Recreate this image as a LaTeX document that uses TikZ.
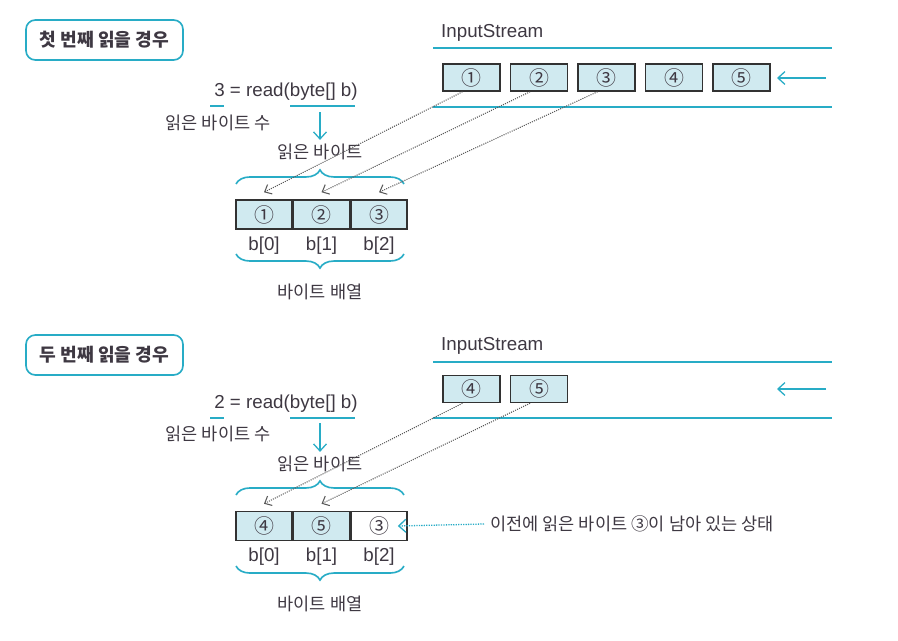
\documentclass[tikz,border=0pt]{standalone}
\usepackage{fontspec}
\setmainfont{Liberation Sans}
\newfontfamily\kr{Noto Sans CJK KR}
\usetikzlibrary{positioning, arrows.meta, calc, decorations.pathreplacing}
\definecolor{teal1}{RGB}{40,172,198}
\definecolor{cellfill}{RGB}{208,234,240}
\definecolor{ink}{RGB}{62,56,66}
\definecolor{edge}{RGB}{50,50,50}

\begin{document}
\begin{tikzpicture}[x=0.03cm, y=-0.03cm, font=\fontsize{16}{19}\selectfont, text=ink,
    title/.style={draw=teal1, line width=1.4pt, rounded corners=8pt, minimum width=4.71cm, minimum height=1.2cm, font=\kr\bfseries\fontsize{15.5}{18}\selectfont},
    cell/.style={draw=edge, line width=1.3pt, fill=cellfill, minimum width=1.71cm, minimum height=0.81cm, inner sep=0pt, font=\kr\fontsize{17}{18}\selectfont},
    slot/.style={cell, minimum width=1.68cm, minimum height=0.87cm},
    pipe/.style={teal1, line width=1.4pt},
    hint/.style={font=\kr\fontsize{15}{18}\selectfont},
    copy/.style={-{Straight Barb[length=5pt, width=9pt, line width=0.9pt]}, gray!70!black, densely dotted, line width=0.9pt},
    flow/.style={-{Straight Barb[length=6pt, width=11pt]}, teal1, line width=1.1pt},
    brc/.style={decorate, decoration={brace, amplitude=12pt, aspect=0.5}, teal1, line width=1.4pt}]
    \useasboundingbox (0,0) rectangle (898,640);

    % first read
    \node[title] (case1) at (104.5,40) {첫 번째 읽을 경우};
    \node[anchor=west, inner sep=0pt] (is1) at (441,33) {InputStream};
    \draw[pipe] (433,48) -- (832,48);
    \draw[pipe] (433,107) -- (832,107);
    \node[cell] (s1) at (471.5,77.5) {①};
    \node[cell, right=0.27cm of s1] (s2) {②};
    \node[cell, right=0.27cm of s2] (s3) {③};
    \node[cell, right=0.27cm of s3] (s4) {④};
    \node[cell, right=0.27cm of s4] (s5) {⑤};
    \coordinate (src1) at (826,78);
    \coordinate (dst1) at (777,78);
    \draw[flow] (src1) -- (dst1);

    \node (call1) at (286,92) {3 = read(byte[] b)};
    \draw[teal1, line width=1pt] (210,106) -- (224,106);
    \draw[teal1, line width=1pt] (290,106) -- (355,106);
    \node[hint] (cnt1) at (218,123) {읽은 바이트 수};
    \coordinate (top1) at (320,112);
    \node[hint] (rd1) at (320,152) {읽은 바이트};
    \draw[flow] (top1) -- (rd1.north);

    \node[slot] (a1) at (264,214.5) {①};
    \node[slot, right=0pt of a1] (a2) {②};
    \node[slot, right=0pt of a2] (a3) {③};
    \node[below=0.2cm of a1, inner sep=0pt] (i1) {b[0]};
    \node[below=0.2cm of a2, inner sep=0pt] (i2) {b[1]};
    \node[below=0.2cm of a3, inner sep=0pt] (i3) {b[2]};
    \draw[brc] (236,184) -- (404,184);
    \draw[brc] (404,254) -- (236,254);
    \node[hint] (arr1) at (320,292) {바이트 배열};

    \draw[copy] ($(s1.south)+(-9,0)$) -- ($(a1.north)+(0,-7)$);
    \draw[copy] ($(s2.south)+(-9,0)$) -- ($(a2.north)+(0,-7)$);
    \draw[copy] ($(s3.south)+(-9,0)$) -- ($(a3.north)+(0,-7)$);

    % second read
    \node[title] (case2) at (104.5,355) {두 번째 읽을 경우};
    \node[anchor=west, inner sep=0pt] (is2) at (441,346) {InputStream};
    \draw[pipe] (433,362) -- (832,362);
    \draw[pipe] (433,418) -- (832,418);
    \node[cell] (t4) at (471.5,389) {④};
    \node[cell, right=0.27cm of t4] (t5) {⑤};
    \coordinate (src2) at (826,389);
    \coordinate (dst2) at (777,389);
    \draw[flow] (src2) -- (dst2);

    \node (call2) at (286,404) {2 = read(byte[] b)};
    \draw[teal1, line width=1pt] (210,418) -- (224,418);
    \draw[teal1, line width=1pt] (290,418) -- (355,418);
    \node[hint] (cnt2) at (218,434) {읽은 바이트 수};
    \coordinate (top2) at (320,423);
    \node[hint] (rd2) at (320,464) {읽은 바이트};
    \draw[flow] (top2) -- (rd2.north);

    \node[slot] (a4) at (264,526) {④};
    \node[slot, right=0pt of a4] (a5) {⑤};
    \node[slot, right=0pt of a5, fill=white] (a6) {③};
    \node[below=0.2cm of a4, inner sep=0pt] (i4) {b[0]};
    \node[below=0.2cm of a5, inner sep=0pt] (i5) {b[1]};
    \node[below=0.2cm of a6, inner sep=0pt] (i6) {b[2]};
    \draw[brc] (236,495) -- (404,495);
    \draw[brc] (404,566) -- (236,566);
    \node[hint] (arr2) at (320,604) {바이트 배열};

    \draw[copy] ($(t4.south)+(-9,0)$) -- ($(a4.north)+(0,-7)$);
    \draw[copy] ($(t5.south)+(-9,0)$) -- ($(a5.north)+(0,-7)$);

    \node[hint, anchor=west, inner sep=0pt] (note) at (490,524) {이전에 읽은 바이트 ③이 남아 있는 상태};
    \draw[flow, densely dotted] ($(note.west)+(-6,0)$) -- ($(a6.east)+(-10,0)$);
\end{tikzpicture}
\end{document}
